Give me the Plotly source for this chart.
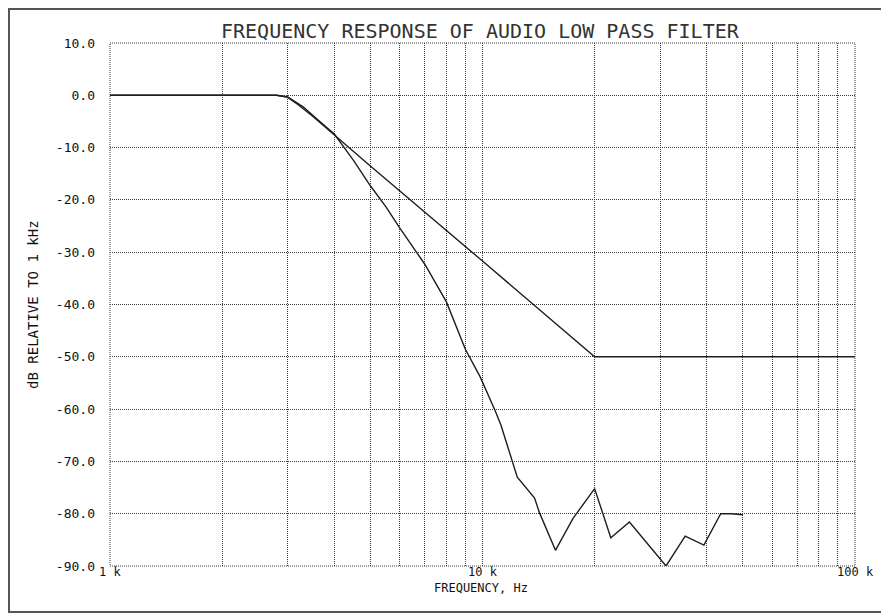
import math
import plotly.graph_objects as go

# ---- data ----
freq_a = [1000, 2800, 3000, 3200, 3500, 4000, 5000, 6000, 7000, 8000, 9000,
          10000, 12000, 14000, 16000, 18000, 20000, 100000]
db_a = [0.0, 0.0, -0.4, -1.8, -4.0, -7.6, -13.5, -18.3, -22.3, -25.9, -29.0,
        -31.7, -36.5, -40.6, -44.1, -47.2, -50.0, -50.0]

freq_b = [1000, 2800, 3000, 3300, 3600, 4000, 4500, 5000, 5500, 6000, 7000,
          8000, 9000, 9850, 10800, 11200, 12400, 13800, 14200, 15700, 17500,
          20000, 22100, 24800, 31100, 35000, 39300, 43600, 46500, 50000]
db_b = [0.0, 0.0, -0.3, -2.2, -4.6, -7.4, -12.4, -17.3, -21.3, -25.4, -32.3,
        -39.5, -48.6, -53.8, -60.2, -63.0, -73.0, -77.0, -79.7, -87.0, -80.9,
        -75.2, -84.6, -81.6, -90.0, -84.3, -86.0, -80.0, -80.0, -80.2]

x_major = [1000, 10000, 100000]
x_major_text = ["1 k", "10 k", "100 k"]
x_minor = [2000, 3000, 4000, 5000, 6000, 7000, 8000, 9000,
           20000, 30000, 40000, 50000, 60000, 70000, 80000, 90000]
y_ticks = [10, 0, -10, -20, -30, -40, -50, -60, -70, -80, -90]
y_text = ["10.0", "0.0", "-10.0", "-20.0", "-30.0", "-40.0", "-50.0",
          "-60.0", "-70.0", "-80.0", "-90.0"]

title_text = "FREQUENCY RESPONSE OF AUDIO LOW PASS FILTER"
x_title = "FREQUENCY, Hz"
y_title = "dB RELATIVE TO 1 kHz"
side_text = "COPYRIGHT (C) 1982 BY R.F. ASSOCIATES, INC.   ALL RIGHTS RESERVED"

# ---- figure ----
# the page adds an 8px body margin, so the figure is laid out 8px smaller
OFF = 8
W, H = 889 - OFF, 616 - OFF
L, R, T, B = 110 - OFF, 34, 43 - OFF, 50
FONT = "DejaVu Sans Mono"
GRID = "#3a3a3a"
DASH = "1px,1px"

fig = go.Figure()
fig.add_trace(go.Scatter(x=freq_a, y=db_a, mode="lines",
                         line=dict(color="#1e1e1e", width=1.4), showlegend=False))
fig.add_trace(go.Scatter(x=freq_b, y=db_b, mode="lines",
                         line=dict(color="#1e1e1e", width=1.4), showlegend=False))

fig.update_layout(
    width=W, height=H,
    margin=dict(l=L, r=R, t=T, b=B),
    paper_bgcolor="white", plot_bgcolor="white",
    font=dict(family=FONT, color="#111", size=12),
    showlegend=False,
)

fig.update_xaxes(
    type="log", range=[3, 5],
    tickmode="array", tickvals=x_major, ticktext=x_major_text,
    showticklabels=False,
    showgrid=True, gridcolor=GRID, gridwidth=1, griddash=DASH,
    minor=dict(tickmode="array", tickvals=x_minor, showgrid=True,
               gridcolor=GRID, gridwidth=1, griddash=DASH, ticks=""),
    zeroline=False, showline=False, ticks="",
)
fig.update_yaxes(
    range=[-90, 10],
    tickmode="array", tickvals=y_ticks, ticktext=y_text,
    showgrid=True, gridcolor=GRID, gridwidth=1, griddash=DASH,
    zeroline=False, showline=False, ticks="",
    ticklabelstandoff=14,
    tickfont=dict(family=FONT, size=13, color="#111"),
)

pw = W - L - R
ph = H - T - B

# helpers: page pixel -> paper coordinate
def px(xp):
    return (xp - OFF - L) / pw

def py(yp):
    return (H - B - (yp - OFF)) / ph

# x tick labels placed on the (log) x axis values, just under the plot
for xv, xt in zip(x_major, x_major_text):
    fig.add_annotation(text=xt, xref="x", yref="paper", x=math.log10(xv),
                       y=py(572), xanchor="center", yanchor="middle",
                       showarrow=False,
                       font=dict(family=FONT, size=12, color="#111"))

# dotted plot frame
fig.add_shape(type="rect", xref="paper", yref="paper", x0=0, x1=1, y0=0, y1=1,
              line=dict(color=GRID, width=1, dash=DASH))
# outer frame
fig.add_shape(type="rect", xref="paper", yref="paper",
              x0=px(9), x1=px(885), y0=py(612), y1=py(9),
              line=dict(color="#555", width=2))

fig.add_annotation(text=title_text, xref="paper", yref="paper",
                   x=px(480), y=py(31), xanchor="center", yanchor="middle",
                   showarrow=False, font=dict(family=FONT, size=20, color="#333"))
fig.add_annotation(text=x_title, xref="paper", yref="paper",
                   x=px(481), y=py(588), xanchor="center", yanchor="middle",
                   showarrow=False, font=dict(family=FONT, size=12, color="#111"))
fig.add_annotation(text=y_title, xref="paper", yref="paper",
                   x=px(33), y=py(305), xanchor="center", yanchor="middle",
                   textangle=-90, showarrow=False,
                   font=dict(family=FONT, size=14, color="#111"))
fig.add_annotation(text=side_text, xref="paper", yref="paper",
                   x=px(885), y=py(410), xanchor="left", yanchor="middle",
                   textangle=-90, showarrow=False,
                   font=dict(family=FONT, size=10, color="#111"))

fig.write_html("out.html")
